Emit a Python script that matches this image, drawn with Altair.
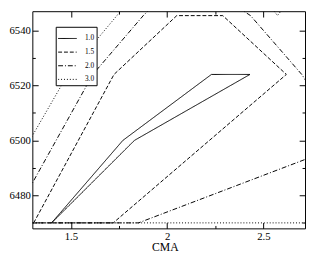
import altair as alt
import pandas as pd

# ---- data (CMA vs. second parameter contours) ----
levels = ["1.0", "1.5", "2.0", "3.0"]

solid_x = [1.40, 1.77, 2.23, 2.43, 1.83, 1.40]
solid_y = [6470, 6500, 6524, 6524, 6500, 6470]

dash_x = [1.307, 1.724, 2.05, 2.289, 2.619, 1.72, 1.307]
dash_y = [6470, 6524, 6545.4, 6545.4, 6524, 6470, 6470]

dashdot_x = [1.185, 1.614, 1.876, 1.959, 2.335, 2.433, 2.699, 2.80, 2.80, 1.851, 1.185]
dashdot_y = [6470, 6524, 6545.4, 6551.1, 6549.9, 6545.4, 6524, 6513.2, 6495.3, 6470, 6470]

dot_x = [1.039, 1.484, 1.739, 1.785, 2.523, 2.573, 2.622, 2.9, 2.9, 1.039]
dot_y = [6470, 6524, 6545.4, 6549.4, 6550, 6545.4, 6550, 6555, 6470, 6470]

x_major = [1.5, 2.0, 2.5]
x_minor = [1.75, 2.25]
y_major = [6480, 6500, 6520, 6540]
y_minor = [6470, 6490, 6510, 6530]

X_DOMAIN = [1.30, 2.716]
Y_DOMAIN = [6468, 6547]

rows = []
for lev, xs_, ys_ in zip(levels, [solid_x, dash_x, dashdot_x, dot_x],
                         [solid_y, dash_y, dashdot_y, dot_y]):
    for i, (a, b) in enumerate(zip(xs_, ys_)):
        rows.append({"level": lev, "i": i, "x": a, "y": b})
df = pd.DataFrame(rows)

W, H = 280, 223
FONT = "Liberation Serif"

xs = alt.Scale(domain=X_DOMAIN, nice=False, zero=False)
ys = alt.Scale(domain=Y_DOMAIN, nice=False, zero=False)

lines = alt.Chart(df).mark_line(clip=True, strokeWidth=1, color="black").encode(
    x=alt.X("x:Q", scale=xs,
            axis=alt.Axis(orient="bottom", values=x_major, format="~g",
                          ticks=False, domain=False, grid=False,
                          labelFont=FONT, labelFontSize=11, labelColor="black",
                          labelPadding=2, title="CMA", titleFont=FONT,
                          titleFontSize=12, titleFontWeight="normal",
                          titleColor="black", titlePadding=1, titleX=136)),
    y=alt.Y("y:Q", scale=ys,
            axis=alt.Axis(orient="left", values=y_major, format="d",
                          ticks=False, domain=False, grid=False,
                          labelFont=FONT, labelFontSize=11, labelColor="black",
                          labelPadding=2, title=None)),
    strokeDash=alt.StrokeDash(
        "level:N",
        scale=alt.Scale(domain=levels,
                        range=[[1, 0], [4, 2], [5, 2, 1, 2], [1, 2]]),
        legend=alt.Legend(title=None, orient="none", legendX=24, legendY=16,
                          symbolType="stroke", symbolSize=361,
                          symbolStrokeWidth=1, symbolStrokeColor="black",
                          labelFont=FONT, labelFontSize=7.5, labelColor="black",
                          labelOffset=8, padding=2, rowPadding=0,
                          strokeColor="black", fillColor="white")),
    detail="level:N",
    order="i:Q",
)

dummy = pd.DataFrame({"x": [2.0], "y": [6500.0]})


def tick_axis(orient, offset, values, size):
    return alt.Axis(orient=orient, offset=offset, values=values,
                    tickSize=size, ticks=True, labels=False, domain=False,
                    grid=False, title=None, tickColor="black", tickWidth=1,
                    zindex=2)


def tick_layer(xo, yo, xv, yv, size):
    return alt.Chart(dummy).mark_point(opacity=0).encode(
        x=alt.X("x:Q", scale=xs, axis=tick_axis(xo, -H, xv, size)),
        y=alt.Y("y:Q", scale=ys, axis=tick_axis(yo, -W, yv, size)),
    )


chart = alt.layer(
    lines,
    tick_layer("top", "right", x_major, y_major, 6),
    tick_layer("bottom", "left", x_major, y_major, 6),
    tick_layer("top", "right", x_minor, y_minor, 3),
    tick_layer("bottom", "left", x_minor, y_minor, 3),
).resolve_axis(x="independent", y="independent").properties(
    width=W, height=H,
    autosize=alt.AutoSizeParams(type="none"),
    padding={"left": 25, "top": 0, "right": 1, "bottom": 23},
).configure_view(stroke="black", strokeWidth=1)

chart.save("out.html", embed_options={"renderer": "svg", "actions": False})
